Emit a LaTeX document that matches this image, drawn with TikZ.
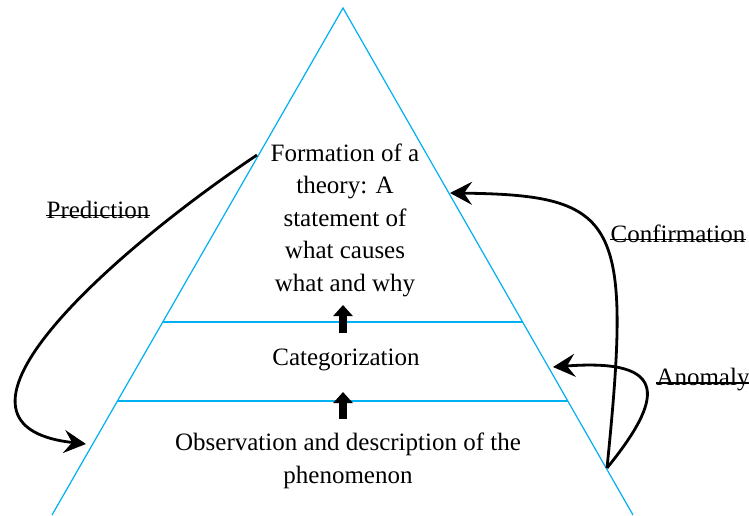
\documentclass[tikz,border=0pt]{standalone}
\usepackage{fontspec}
\setmainfont{Liberation Serif}
\usetikzlibrary{arrows.meta, calc}

\begin{document}
\begin{tikzpicture}[
    x=1pt, y=-1pt,
    edge/.style={draw={rgb,255:red,0;green,176;blue,240}, line width=1.2pt},
    level/.style={align=center, font=\fontsize{25}{32.5}\selectfont},
    tag/.style={inner sep=0pt, font=\fontsize{25}{28}\selectfont},
    strike/.style={line width=1.1pt, draw=black},
    loop/.style={-{Stealth[length=22pt, width=23pt, inset=8pt]}, line width=2.8pt, draw=black},
    uparrow/.style={-{Triangle[length=11pt, width=19pt]}, line width=8pt, draw=black}
]
    \useasboundingbox (0,0) rectangle (749,515);

    % PYRAMID
    \coordinate (apex) at (343,8);
    \coordinate (bl) at (52,515);
    \coordinate (br) at (633,515);
    \draw [edge] (bl) -- (apex) -- (br);

    % LEVEL DIVIDERS
    \coordinate (l1) at ($(apex)!0.6193!(bl)$);
    \coordinate (r1) at ($(apex)!0.6193!(br)$);
    \coordinate (l2) at ($(apex)!0.7751!(bl)$);
    \coordinate (r2) at ($(apex)!0.7751!(br)$);
    \draw [edge] (l1) -- (r1);
    \draw [edge] (l2) -- (r2);

    % LEVEL TEXTS
    \node (theory) [level] at (345,220) {Formation of a\\ theory: A\\ statement of\\ what causes\\ what and why};
    \node (categ) [level] at (346,360) {Categorization};
    \node (observ) [level] at (348,461) {Observation and description of the\\ phenomenon};

    % UPWARD STEPS
    \coordinate (u1s) at (343,333);
    \coordinate (u1e) at (343,305);
    \coordinate (u2s) at (343,419);
    \coordinate (u2e) at (343,392);
    \draw [uparrow] (u1s) -- (u1e);
    \draw [uparrow] (u2s) -- (u2e);

    % SIDE LABELS (struck through)
    \node (pred) [tag] at (98,210) {Prediction};
    \node (conf) [tag] at (678,234) {Confirmation};
    \node (anom) [tag] at (703,380) {Anomaly};
    \foreach \t in {pred, conf, anom}
        \draw [strike] ([yshift=0.3em]\t.base west) -- ([yshift=0.3em]\t.base east);

    % FEEDBACK LOOPS
    \coordinate (ps) at (257,155);
    \coordinate (pe) at (86,444);
    \coordinate (fs) at (607,468);
    \coordinate (ce) at (450,193);
    \coordinate (ae) at (553,367);
    \draw [loop] (ps) .. controls (115,250) and (-85,425) .. (pe);
    \draw [loop] (fs) .. controls (632,220) and (620,195) .. (ce);
    \draw [loop] (fs) .. controls (662,400) and (672,358) .. (ae);

\end{tikzpicture}
\end{document}
